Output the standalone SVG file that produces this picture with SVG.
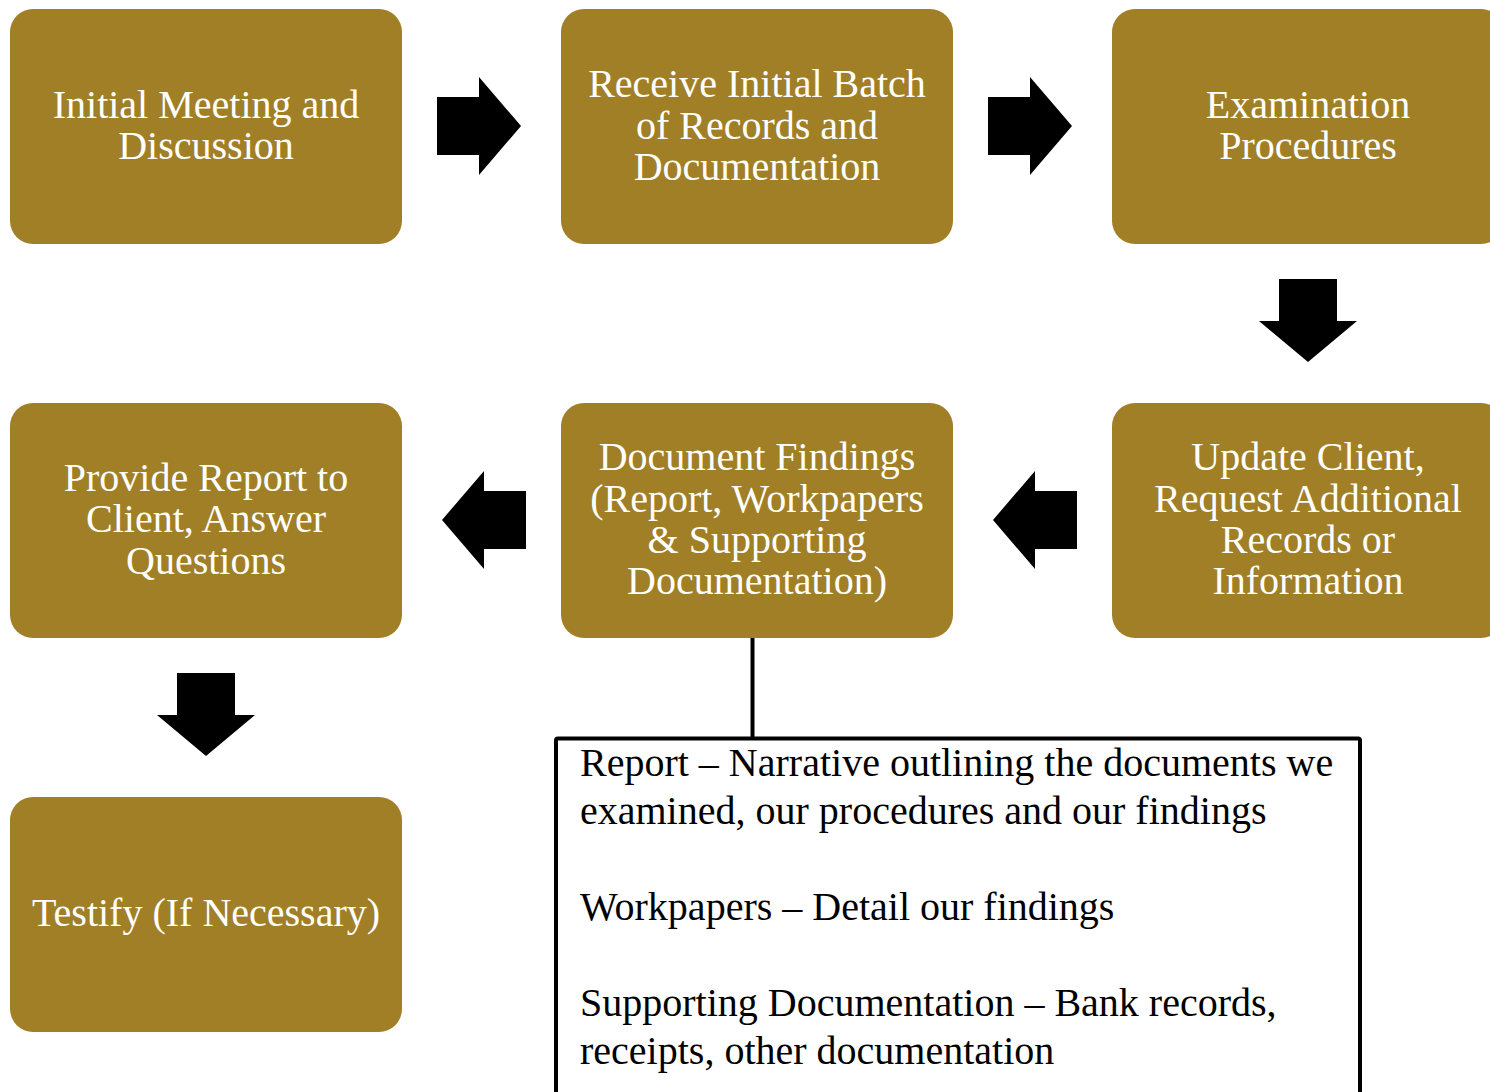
<svg xmlns="http://www.w3.org/2000/svg" width="1490" height="1092" viewBox="0 0 1490 1092">
  <style>
    .step { fill: #A07F26; }
    .label { fill: #FFFFFF; font-family: "Liberation Serif", "Times New Roman", serif; font-size: 40px; text-anchor: middle; }
    .note { fill: #000000; font-family: "Liberation Serif", "Times New Roman", serif; font-size: 40px; }
    .arrow { fill: #000000; }
  </style>
  <defs>
    <!-- block arrow pointing right, origin at shaft-left / vertical centre -->
    <path id="arrowRight" d="M0,-29 H42 V-49 L84,0 L42,49 V29 H0 Z"/>
    <!-- block arrow pointing down, origin at shaft-top / horizontal centre -->
    <path id="arrowDown" d="M-29,0 H29 V42 H49 L0,83 L-49,42 H-29 Z"/>
  </defs>
  <rect width="1490" height="1092" fill="#FFFFFF"/>

  <g id="connectors">
    <use href="#arrowRight" class="arrow" x="437" y="126"/>
    <use href="#arrowRight" class="arrow" x="988" y="126"/>
    <use href="#arrowDown" class="arrow" x="1308" y="279"/>
    <use href="#arrowRight" class="arrow" transform="translate(1077,520) scale(-1,1)"/>
    <use href="#arrowRight" class="arrow" transform="translate(526,520) scale(-1,1)"/>
    <use href="#arrowDown" class="arrow" x="206" y="673"/>
    <line x1="752.5" y1="637" x2="752.5" y2="738" stroke="#000000" stroke-width="4"/>
  </g>

  <g id="step-initial-meeting">
    <rect class="step" x="10" y="9" width="392" height="235" rx="23"/>
    <text class="label" x="206" y="118">Initial Meeting and</text>
    <text class="label" x="206" y="159">Discussion</text>
  </g>

  <g id="step-receive-records">
    <rect class="step" x="561" y="9" width="392" height="235" rx="23"/>
    <text class="label" x="757" y="97">Receive Initial Batch</text>
    <text class="label" x="757" y="138.5">of Records and</text>
    <text class="label" x="757" y="180">Documentation</text>
  </g>

  <g id="step-examination">
    <rect class="step" x="1112" y="9" width="392" height="235" rx="23"/>
    <text class="label" x="1308" y="118">Examination</text>
    <text class="label" x="1308" y="159">Procedures</text>
  </g>

  <g id="step-update-client">
    <rect class="step" x="1112" y="403" width="392" height="235" rx="23"/>
    <text class="label" x="1308" y="470">Update Client,</text>
    <text class="label" x="1308" y="511.5">Request Additional</text>
    <text class="label" x="1308" y="553">Records or</text>
    <text class="label" x="1308" y="594">Information</text>
  </g>

  <g id="step-document-findings">
    <rect class="step" x="561" y="403" width="392" height="235" rx="23"/>
    <text class="label" x="757" y="470">Document Findings</text>
    <text class="label" x="757" y="511.5">(Report, Workpapers</text>
    <text class="label" x="757" y="553">&amp; Supporting</text>
    <text class="label" x="757" y="594">Documentation)</text>
  </g>

  <g id="step-provide-report">
    <rect class="step" x="10" y="403" width="392" height="235" rx="23"/>
    <text class="label" x="206" y="491">Provide Report to</text>
    <text class="label" x="206" y="532">Client, Answer</text>
    <text class="label" x="206" y="574">Questions</text>
  </g>

  <g id="step-testify">
    <rect class="step" x="10" y="797" width="392" height="235" rx="23"/>
    <text class="label" x="206" y="926">Testify (If Necessary)</text>
  </g>

  <g id="findings-detail">
    <rect x="556" y="738.5" width="804" height="400" rx="2" fill="#FFFFFF" stroke="#000000" stroke-width="4"/>
    <text class="note" x="580" y="776">Report – Narrative outlining the documents we</text>
    <text class="note" x="580" y="824">examined, our procedures and our findings</text>
    <text class="note" x="580" y="920">Workpapers – Detail our findings</text>
    <text class="note" x="580" y="1016">Supporting Documentation – Bank records,</text>
    <text class="note" x="580" y="1064">receipts, other documentation</text>
  </g>
</svg>
